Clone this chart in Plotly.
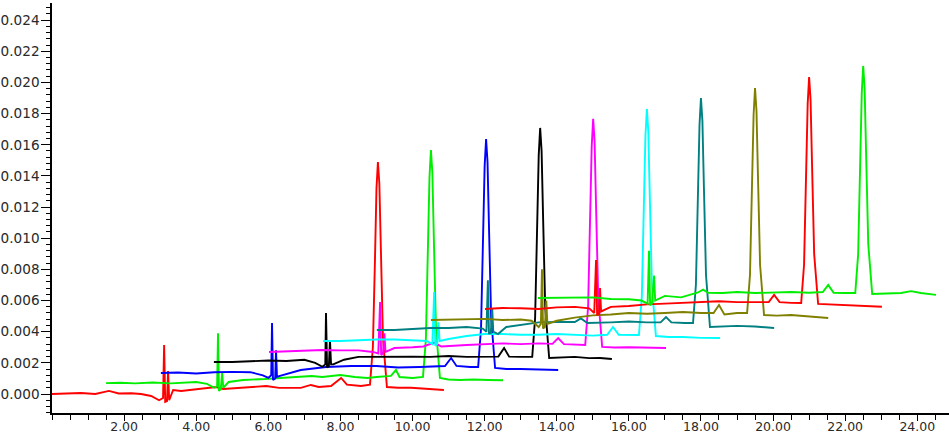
import plotly.graph_objects as go

# Retention time (min) / absorbance (AU) pairs read from the overlay, one list per injection
run01 = [(0.00,0.0),(0.35,0.00003),(0.80,0.00006),(1.20,0.0),(1.58,0.00020),(1.85,0.00003),(2.20,0.00005),(2.47,0.0),(2.75,-0.00013),(2.97,-0.00040),(3.08,-0.00026),(3.11,0.00315),(3.14,-0.00050),(3.19,-0.00045),(3.22,0.00148),(3.25,-0.00040),(3.36,0.00026),(3.58,0.00019),(4.13,0.00032),(4.55,0.00045),(4.75,0.00032),(5.20,0.00039),(5.94,0.00051),(6.30,0.00039),(6.90,0.00039),(7.18,0.00058),(7.40,0.00045),(7.74,0.00051),(8.02,0.00103),(8.18,0.00060),(8.57,0.00051),(8.82,0.00060),(8.90,0.00300),(8.957,0.00850),(9.00,0.01320),(9.04,0.01489),(9.08,0.01350),(9.123,0.00920),(9.18,0.00360),(9.29,0.00045),(9.60,0.00040),(9.96,0.00040),(10.30,0.00035),(10.60,0.00032),(10.87,0.00026)]
run02 = [(1.50,0.00070),(1.90,0.00072),(2.30,0.00068),(2.80,0.00074),(3.30,0.00068),(3.70,0.00072),(4.00,0.00077),(4.30,0.00065),(4.50,0.00040),(4.58,0.00050),(4.605,0.00390),(4.63,0.00020),(4.68,0.00030),(4.72,0.00135),(4.75,0.00040),(4.90,0.00077),(5.30,0.00090),(5.90,0.00096),(6.30,0.00103),(6.90,0.00109),(7.20,0.00116),(7.50,0.00109),(8.00,0.00122),(8.40,0.00109),(8.75,0.00103),(9.00,0.00109),(9.40,0.00116),(9.54,0.00154),(9.64,0.00109),(10.00,0.00103),(10.29,0.00110),(10.37,0.00350),(10.427,0.00910),(10.47,0.01390),(10.51,0.01566),(10.55,0.01420),(10.593,0.00980),(10.65,0.00420),(10.76,0.00103),(11.00,0.00093),(11.30,0.00090),(11.70,0.00093),(12.10,0.00090),(12.51,0.00088)]
run03 = [(3.02,0.00135),(3.50,0.00138),(4.00,0.00132),(4.50,0.00140),(5.00,0.00142),(5.50,0.00140),(5.85,0.00120),(6.00,0.00103),(6.08,0.00120),(6.103,0.00456),(6.13,0.00090),(6.19,0.00100),(6.214,0.00280),(6.24,0.00110),(6.30,0.00115),(6.90,0.00154),(7.60,0.00173),(8.30,0.00180),(9.00,0.00180),(9.60,0.00170),(10.20,0.00173),(10.90,0.00180),(11.07,0.00231),(11.22,0.00180),(11.60,0.00173),(11.82,0.00173),(11.90,0.00422),(11.957,0.00978),(12.00,0.01461),(12.04,0.01637),(12.08,0.01490),(12.123,0.01049),(12.18,0.00490),(12.29,0.00167),(12.60,0.00160),(13.00,0.00160),(13.50,0.00158),(14.04,0.00154)]
run04 = [(4.49,0.00205),(5.00,0.00205),(5.50,0.00210),(6.00,0.00215),(6.50,0.00212),(7.00,0.00220),(7.30,0.00200),(7.50,0.00175),(7.58,0.00190),(7.60,0.00520),(7.63,0.00170),(7.68,0.00180),(7.71,0.00347),(7.74,0.00190),(7.80,0.00190),(8.10,0.00220),(8.50,0.00238),(9.00,0.00240),(9.50,0.00238),(10.00,0.00240),(10.50,0.00238),(11.00,0.00244),(11.50,0.00238),(12.00,0.00240),(12.38,0.00240),(12.54,0.00295),(12.68,0.00240),(13.00,0.00238),(13.32,0.00238),(13.40,0.00488),(13.457,0.01047),(13.50,0.01532),(13.54,0.01708),(13.58,0.01560),(13.623,0.01117),(13.68,0.00556),(13.79,0.00231),(14.10,0.00235),(14.50,0.00238),(14.90,0.00230),(15.20,0.00231),(15.53,0.00225)]
run05 = [(6.02,0.00270),(6.50,0.00273),(7.00,0.00276),(7.50,0.00282),(8.00,0.00280),(8.50,0.00280),(8.90,0.00270),(9.05,0.00260),(9.10,0.00590),(9.13,0.00250),(9.18,0.00260),(9.22,0.00390),(9.25,0.00270),(9.50,0.00295),(10.00,0.00300),(10.30,0.00305),(10.60,0.00330),(10.80,0.00305),(11.50,0.00315),(12.00,0.00320),(12.50,0.00325),(13.00,0.00320),(13.50,0.00325),(13.88,0.00322),(14.04,0.00359),(14.20,0.00320),(14.60,0.00315),(14.79,0.00315),(14.87,0.00560),(14.927,0.01113),(14.97,0.01591),(15.01,0.01766),(15.05,0.01620),(15.093,0.01180),(15.15,0.00624),(15.26,0.00302),(15.60,0.00298),(16.00,0.00300),(16.50,0.00298),(17.03,0.00295)]
run06 = [(7.52,0.00340),(8.00,0.00340),(8.50,0.00345),(9.00,0.00350),(9.50,0.00350),(10.00,0.00347),(10.40,0.00340),(10.55,0.00320),(10.60,0.00655),(10.63,0.00310),(10.68,0.00320),(10.72,0.00460),(10.75,0.00340),(11.00,0.00353),(11.50,0.00372),(12.00,0.00385),(12.50,0.00385),(13.00,0.00380),(13.50,0.00380),(14.00,0.00385),(14.50,0.00380),(15.00,0.00375),(15.40,0.00380),(15.56,0.00430),(15.72,0.00380),(16.00,0.00380),(16.28,0.00379),(16.36,0.00626),(16.417,0.01177),(16.46,0.01656),(16.50,0.01830),(16.54,0.01684),(16.583,0.01247),(16.64,0.00693),(16.75,0.00372),(17.10,0.00366),(17.50,0.00366),(18.00,0.00360),(18.53,0.00359)]
run07 = [(9.01,0.00411),(9.50,0.00411),(10.00,0.00417),(10.50,0.00424),(11.00,0.00424),(11.50,0.00430),(11.95,0.00420),(12.05,0.00400),(12.09,0.00730),(12.12,0.00390),(12.17,0.00390),(12.21,0.00550),(12.24,0.00400),(12.37,0.00385),(12.60,0.00430),(13.00,0.00443),(13.50,0.00460),(14.00,0.00462),(14.50,0.00462),(14.67,0.00485),(14.85,0.00456),(15.50,0.00460),(16.00,0.00465),(16.50,0.00460),(16.88,0.00460),(17.03,0.00494),(17.18,0.00460),(17.55,0.00456),(17.78,0.00456),(17.86,0.00701),(17.917,0.01250),(17.96,0.01727),(18.00,0.01900),(18.04,0.01754),(18.083,0.01317),(18.14,0.00764),(18.25,0.00430),(18.60,0.00433),(19.00,0.00437),(19.50,0.00433),(20.03,0.00424)]
run08 = [(10.51,0.00475),(11.00,0.00478),(11.50,0.00482),(12.00,0.00482),(12.50,0.00475),(13.00,0.00478),(13.30,0.00470),(13.50,0.00430),(13.56,0.00450),(13.59,0.00800),(13.62,0.00420),(13.67,0.00430),(13.71,0.00600),(13.74,0.00450),(14.00,0.00470),(14.50,0.00490),(15.00,0.00505),(15.50,0.00510),(16.00,0.00520),(16.50,0.00515),(17.00,0.00520),(17.50,0.00526),(18.00,0.00520),(18.35,0.00520),(18.50,0.00571),(18.65,0.00510),(19.00,0.00520),(19.28,0.00520),(19.36,0.00765),(19.417,0.01314),(19.46,0.01791),(19.50,0.01964),(19.54,0.01818),(19.583,0.01381),(19.64,0.00828),(19.75,0.00507),(20.10,0.00503),(20.50,0.00507),(21.00,0.00500),(21.53,0.00488)]
run09 = [(12.01,0.00546),(12.50,0.00552),(13.00,0.00550),(13.50,0.00546),(14.00,0.00556),(14.50,0.00559),(14.90,0.00550),(15.04,0.00520),(15.09,0.00860),(15.12,0.00510),(15.17,0.00510),(15.20,0.00680),(15.23,0.00530),(15.50,0.00559),(16.00,0.00565),(16.50,0.00575),(17.00,0.00580),(17.50,0.00585),(18.00,0.00590),(18.50,0.00595),(19.00,0.00590),(19.50,0.00590),(19.88,0.00590),(20.03,0.00636),(20.18,0.00590),(20.50,0.00585),(20.78,0.00584),(20.86,0.00831),(20.917,0.01382),(20.96,0.01861),(21.00,0.02035),(21.04,0.01889),(21.083,0.01452),(21.14,0.00899),(21.25,0.00578),(21.60,0.00575),(22.00,0.00571),(22.50,0.00568),(23.02,0.00560)]
run10 = [(13.48,0.00616),(14.00,0.00616),(14.50,0.00620),(15.00,0.00620),(15.50,0.00610),(16.00,0.00608),(16.35,0.00600),(16.52,0.00580),(16.56,0.00920),(16.59,0.00570),(16.64,0.00580),(16.70,0.00760),(16.73,0.00600),(17.00,0.00630),(17.45,0.00620),(17.90,0.00650),(18.06,0.00670),(18.20,0.00650),(18.60,0.00648),(19.00,0.00655),(19.50,0.00648),(20.00,0.00652),(20.50,0.00655),(21.00,0.00650),(21.38,0.00655),(21.53,0.00700),(21.68,0.00650),(22.00,0.00648),(22.28,0.00648),(22.36,0.00896),(22.417,0.01450),(22.46,0.01931),(22.50,0.02106),(22.54,0.01960),(22.583,0.01520),(22.64,0.00964),(22.75,0.00642),(23.20,0.00648),(23.55,0.00648),(23.83,0.00660),(24.10,0.00648),(24.52,0.00636)]

runs = [run01, run02, run03, run04, run05, run06, run07, run08, run09, run10]
run_colors = ["#ff0000", "#00ee00", "#0000ff", "#000000", "#ff00ff",
              "#00ffff", "#008080", "#808000", "#ff0000", "#00ee00"]

x_tick_values = [2, 4, 6, 8, 10, 12, 14, 16, 18, 20, 22, 24]
x_tick_labels = ["2.00", "4.00", "6.00", "8.00", "10.00", "12.00", "14.00",
                 "16.00", "18.00", "20.00", "22.00", "24.00"]

fig = go.Figure()
for run, color in zip(runs, run_colors):
    xs = [p[0] for p in run]
    ys = [p[1] for p in run]
    fig.add_trace(go.Scatter(x=xs, y=ys, mode="lines",
                             line=dict(color=color, width=1.9),
                             hoverinfo="skip", showlegend=False))

x_font = dict(family="DejaVu Sans", size=12.5, color="#2a2a2a")
y_font = dict(family="DejaVu Sans", size=13.6, color="#2a2a2a")

fig.update_layout(
    width=949, height=436,
    margin=dict(l=52, r=0, t=3, b=23),
    paper_bgcolor="white", plot_bgcolor="white",
    showlegend=False,
    xaxis=dict(range=[0, 24.88], showgrid=False, zeroline=False,
               showline=True, linecolor="black", linewidth=1.5,
               ticks="outside", ticklen=6, tickwidth=1.2, tickcolor="black",
               tickmode="array", tickvals=x_tick_values, ticktext=x_tick_labels,
               tickfont=x_font, automargin=False, ticklabelstandoff=-5,
               minor=dict(ticks="outside", ticklen=5, tickwidth=1.2,
                          tickcolor="black", dtick=0.5, tick0=0, showgrid=False)),
    yaxis=dict(range=[-0.00122, 0.0251], showgrid=False, zeroline=False,
               showline=True, linecolor="black", linewidth=1.5,
               ticks="outside", ticklen=9, tickwidth=1.2, tickcolor="black",
               tick0=0, dtick=0.002, tickformat=".3f",
               tickfont=y_font, automargin=False, ticklabelstandoff=-1,
               minor=dict(ticks="outside", ticklen=4, tickwidth=1.2,
                          tickcolor="black", dtick=0.0004, tick0=0, showgrid=False)),
)

fig.write_html("out.html", config={"displayModeBar": False},
               post_script="document.body.style.margin='0';document.body.style.overflow='hidden';")
